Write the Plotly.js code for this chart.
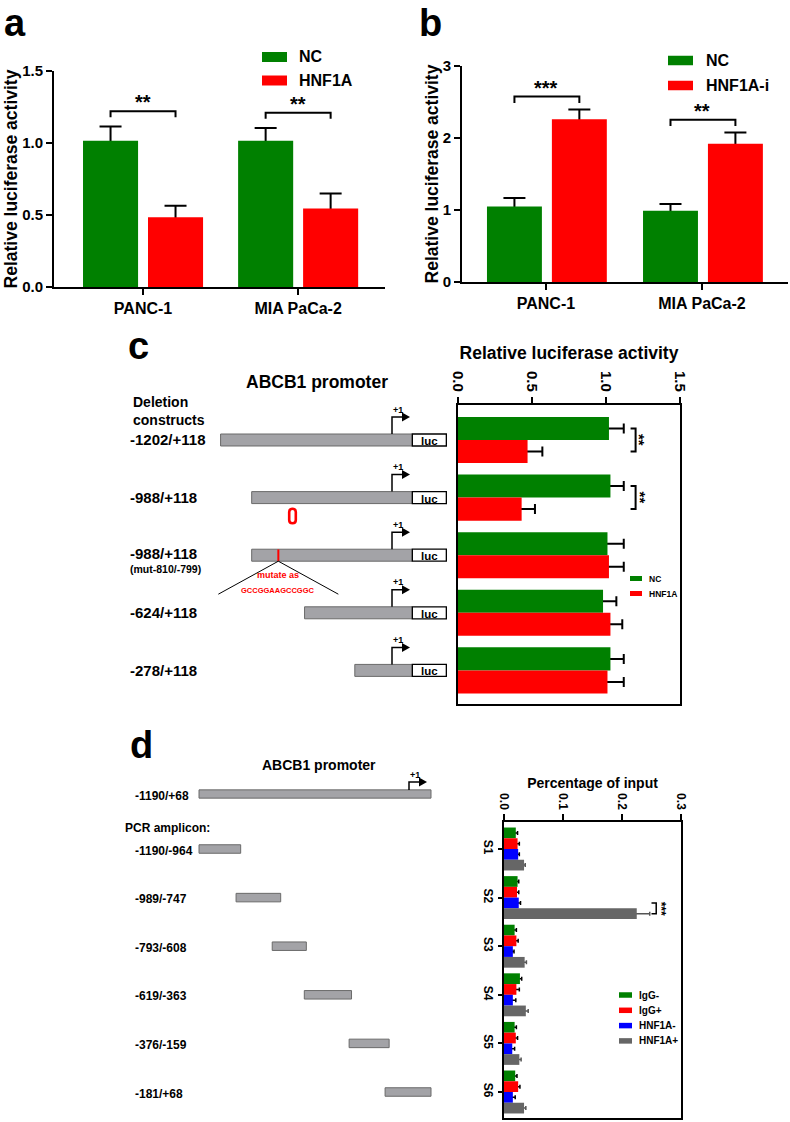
<!DOCTYPE html>
<html><head><meta charset="utf-8">
<script src="https://cdn.plot.ly/plotly-3.0.1.min.js"></script>
<style>html,body{margin:0;padding:0;background:#fff}#chart{width:790px;height:1122px}</style>
</head><body><div id="chart"></div>
<script>
// ================= DATA =================
const cellLines = ['PANC-1', 'MIA PaCa-2'];
// panel a
const aNames = ['NC', 'HNF1A'];
const aNC = [1.015, 1.015];
const aNCerr = [0.10, 0.09];
const aHNF = [0.485, 0.545];
const aHNFerr = [0.08, 0.105];
const aStars = ['**', '**'];
// panel b
const bNames = ['NC', 'HNF1A-i'];
const bNC = [1.05, 0.99];
const bNCerr = [0.115, 0.095];
const bHNF = [2.26, 1.92];
const bHNFerr = [0.135, 0.155];
const bStars = ['***', '**'];
// panel c
const cStart = [-1202, -988, -988, -624, -278];
const cEnd = [118, 118, 118, 118, 118];
const cMutRow = 2;
const cMutSite = [-810, -799];
const cMutSeq = 'GCCGGAAGCCGGC';
const cNames = ['NC', 'HNF1A'];
const cNC = [1.02, 1.03, 1.01, 0.98, 1.03];
const cNCerr = [0.10, 0.09, 0.11, 0.09, 0.09];
const cHNF = [0.47, 0.43, 1.02, 1.03, 1.01];
const cHNFerr = [0.10, 0.09, 0.10, 0.08, 0.11];
const cStars = ['**', '**', '', '', ''];
// panel d
const dPromoter = [-1190, 68];
const dSites = ['S1', 'S2', 'S3', 'S4', 'S5', 'S6'];
const dAmpStart = [-1190, -989, -793, -619, -376, -181];
const dAmpEnd = [-964, -747, -608, -363, -159, 68];
const dNames = ['IgG-', 'IgG+', 'HNF1A-', 'HNF1A+'];
const dIgGneg = [0.020, 0.023, 0.018, 0.027, 0.018, 0.019];
const dIgGnegErr = [0.003, 0.002, 0.003, 0.003, 0.003, 0.003];
const dIgGpos = [0.023, 0.022, 0.021, 0.021, 0.020, 0.024];
const dIgGposErr = [0.003, 0.003, 0.003, 0.005, 0.003, 0.003];
const dHNFneg = [0.024, 0.025, 0.015, 0.015, 0.014, 0.015];
const dHNFnegErr = [0.002, 0.003, 0.002, 0.005, 0.004, 0.004];
const dHNFpos = [0.034, 0.225, 0.035, 0.037, 0.026, 0.034];
const dHNFposErr = [0.002, 0.022, 0.003, 0.004, 0.003, 0.003];
const dStars = ['', '***', '', '', '', ''];

// ================= LAYOUT GEOMETRY (pixels) =================
const W = 790, H = 1122;
const PX = x => x / W;
const PY = y => 1 - y / H;
const FONT = 'Liberation Sans, Arial, Helvetica, sans-serif';
const fnt = (size, color, weight) => ({family: FONT, size: size, color: color || '#000', weight: weight || 'bold'});
const GREEN = '#008000', RED = '#ff0000', BLUE = '#0000ff', GRAY = '#666666';
const BOXGRAY = '#a3a3a7', BOXLINE = '#6a6a6a';

const A = {l: 54, r: 385, t: 71, b: 287};
const B = {l: 462, r: 788, t: 66, b: 282};
const C = {l: 458, r: 680, t: 405, b: 704};
const D = {l: 504, r: 681, t: 822, b: 1118};
const domX = (l, r) => [PX(l), PX(r)];
const domY = (t, b) => [PY(b), PY(t)];

const cRow0 = 440, cStep = 57.6;
const cRowY = i => cRow0 + cStep * i;
const cYRange = [(C.b - cRow0) / cStep, (C.t - cRow0) / cStep];
const dRow0 = 849, dStep = 48.6;
const dRowY = i => dRow0 + dStep * i;
const dYRange = [(D.b - dRow0) / dStep, (D.t - dRow0) / dStep];
const dDiagTop = 770;
const dDiagRange = [(D.b - dRow0) / dStep, (dDiagTop - dRow0) / dStep];
const dPromoRow = (794 - dRow0) / dStep;

// diagram scales: base pairs -> pixels
const cSlope = 0.14526, cMidBp = -539.7, cMidPx = 316.8;
const cX = bp => cMidPx + cSlope * (bp - cMidBp);
const cBp = px => (px - cMidPx) / cSlope + cMidBp;
const dSlope = 232 / 1258, dLeftPx = 199;
const dX = bp => dLeftPx + dSlope * (bp - dPromoter[0]);
const dBp = px => (px - dLeftPx) / dSlope + dPromoter[0];
const cTssPx = 392, dTssPx = 409;
const fmt = v => (v > 0 ? '+' + v : String(v));

// ================= TRACES =================
const carriers = [], bars = [];
function series(o) {
  const common = {type: 'bar', xaxis: o.xa, yaxis: o.ya, offset: o.off, width: o.wid,
    hoverinfo: 'skip', showlegend: false};
  const err = {type: 'data', array: o.err, symmetric: true, color: o.errColor || '#000',
    thickness: o.errThick || 2, width: o.capW};
  if (o.h) {
    carriers.push(Object.assign({}, common, {orientation: 'h', x: o.vals, y: o.pos,
      marker: {color: 'rgba(0,0,0,0)'}, error_x: err}));
    bars.push(Object.assign({}, common, {orientation: 'h', x: o.vals, y: o.pos,
      marker: {color: o.color, line: {width: 0}}}));
  } else {
    carriers.push(Object.assign({}, common, {x: o.pos, y: o.vals,
      marker: {color: 'rgba(0,0,0,0)'}, error_y: err}));
    bars.push(Object.assign({}, common, {x: o.pos, y: o.vals,
      marker: {color: o.color, line: {width: 0}}}));
  }
}
const ab = cellLines.map((_, i) => i);
const cPos = cNC.map((_, i) => i);
const dPos = dSites.map((_, i) => i);

series({xa: 'x', ya: 'y', pos: ab, vals: aNC, err: aNCerr, off: -0.387, wid: 0.355, color: GREEN, capW: 11});
series({xa: 'x', ya: 'y', pos: ab, vals: aHNF, err: aHNFerr, off: 0.032, wid: 0.355, color: RED, capW: 11});
series({xa: 'x2', ya: 'y2', pos: ab, vals: bNC, err: bNCerr, off: -0.378, wid: 0.352, color: GREEN, capW: 11});
series({xa: 'x2', ya: 'y2', pos: ab, vals: bHNF, err: bHNFerr, off: 0.038, wid: 0.352, color: RED, capW: 11});
series({h: true, xa: 'x3', ya: 'y3', pos: cPos, vals: cNC, err: cNCerr, off: -0.4, wid: 0.4, color: GREEN, capW: 5});
series({h: true, xa: 'x3', ya: 'y3', pos: cPos, vals: cHNF, err: cHNFerr, off: 0, wid: 0.4, color: RED, capW: 5});
const dVals = [dIgGneg, dIgGpos, dHNFneg, dHNFpos];
const dErrs = [dIgGnegErr, dIgGposErr, dHNFnegErr, dHNFposErr];
const dColors = [GREEN, RED, BLUE, GRAY];
const dWid = 0.221;
dVals.forEach((v, k) => series({h: true, xa: 'x4', ya: 'y4', pos: dPos, vals: v, err: dErrs[k],
  off: -2 * dWid + k * dWid, wid: dWid, color: dColors[k], capW: 2, errThick: 1.5,
  errColor: k === 3 ? '#555' : '#000'}));

// promoter diagrams
const diag = [];
diag.push({type: 'bar', orientation: 'h', xaxis: 'x5', yaxis: 'y5', y: cPos,
  base: cStart, x: cEnd.map((e, i) => e - cStart[i]), width: 0.208,
  marker: {color: BOXGRAY, line: {color: BOXLINE, width: 1}}, hoverinfo: 'skip', showlegend: false});
diag.push({type: 'bar', orientation: 'h', xaxis: 'x6', yaxis: 'y6', y: [dPromoRow],
  base: [dPromoter[0]], x: [dPromoter[1] - dPromoter[0]], width: 0.17,
  marker: {color: BOXGRAY, line: {color: BOXLINE, width: 1}}, hoverinfo: 'skip', showlegend: false});
diag.push({type: 'bar', orientation: 'h', xaxis: 'x6', yaxis: 'y6', y: dPos,
  base: dAmpStart, x: dAmpEnd.map((e, i) => e - dAmpStart[i]), width: 0.175,
  marker: {color: BOXGRAY, line: {color: BOXLINE, width: 1}}, hoverinfo: 'skip', showlegend: false});

const data = diag.concat(carriers, bars);

// ================= SHAPES & ANNOTATIONS =================
const shapes = [], annotations = [];
const P = (x, y) => PX(x) + ',' + PY(y);
function txt(x, y, text, size, opts) {
  annotations.push(Object.assign({xref: 'paper', yref: 'paper', x: PX(x), y: PY(y), text: text,
    showarrow: false, font: fnt(size), xanchor: 'center', yanchor: 'middle'}, opts || {}));
}

// panel letters
txt(2, 0, 'a', 38, {xanchor: 'left', yanchor: 'top'});
txt(417, 0, 'b', 38, {xanchor: 'left', yanchor: 'top'});
txt(126, 323, 'c', 38, {xanchor: 'left', yanchor: 'top'});
txt(128, 722, 'd', 38, {xanchor: 'left', yanchor: 'top'});

// legends
function legend(names, colors, x0, x1, ys, h, textX, size) {
  names.forEach((n, i) => {
    shapes.push({type: 'rect', xref: 'paper', yref: 'paper', x0: PX(x0), x1: PX(x1),
      y0: PY(ys[i] + h / 2), y1: PY(ys[i] - h / 2), fillcolor: colors[i], line: {width: 0}});
    txt(textX, ys[i], n, size, {xanchor: 'left'});
  });
}
legend(aNames, [GREEN, RED], 262, 287, [57, 80.5], 10, 297, 16);
legend(bNames, [GREEN, RED], 668, 693, [60.5, 85.5], 9.5, 704, 16);
legend(cNames, [GREEN, RED], 630, 642, [578.5, 593.5], 5, 647, 8.5);
legend(dNames, dColors, 619, 632, [995, 1010.3, 1025.6, 1040.9], 5.5, 637, 10);

// significance brackets (vertical bars)
function vBracket(xa, ya, i, x0, x1, nc, hnf, pad, leg, stars, size) {
  const top = Math.max(nc.v[i] + nc.e[i], hnf.v[i] + hnf.e[i]) + pad;
  shapes.push({type: 'path', xref: xa, yref: ya, line: {color: '#000', width: 2},
    path: `M${i + x0},${top - leg} V${top} H${i + x1} V${top - leg}`});
  annotations.push({xref: xa, yref: ya, x: i, y: top, yanchor: 'bottom', yshift: -4,
    text: stars, showarrow: false, font: fnt(size)});
}
ab.forEach(i => vBracket('x', 'y', i, -0.2095, 0.2095, {v: aNC, e: aNCerr}, {v: aHNF, e: aHNFerr}, 0.105, 0.042, aStars[i], 20));
ab.forEach(i => vBracket('x2', 'y2', i, -0.202, 0.214, {v: bNC, e: bNCerr}, {v: bHNF, e: bHNFerr}, 0.18, 0.09, bStars[i], 20));
// horizontal brackets
cStars.forEach((s, i) => {
  if (!s) return;
  const xr = Math.max(cNC[i] + cNCerr[i], cHNF[i] + cHNFerr[i]) + 0.08;
  shapes.push({type: 'path', xref: 'x3', yref: 'y3', line: {color: '#000', width: 2},
    path: `M${xr - 0.034},${i - 0.2} H${xr} V${i + 0.2} H${xr - 0.034}`});
  annotations.push({xref: 'x3', yref: 'y3', x: xr + 0.03, y: i, textangle: 90, xanchor: 'center', yanchor: 'middle',
    text: s, showarrow: false, font: fnt(15)});
});
dStars.forEach((s, i) => {
  if (!s) return;
  const xr = Math.max(dHNFneg[i] + dHNFnegErr[i], dHNFpos[i] + dHNFposErr[i]) + 0.011;
  const y0 = i + dWid / 2, y1 = i + 1.5 * dWid;
  shapes.push({type: 'path', xref: 'x4', yref: 'y4', line: {color: '#000', width: 1.5},
    path: `M${xr - 0.008},${y0} H${xr} V${y1} H${xr - 0.008}`});
  annotations.push({xref: 'x4', yref: 'y4', x: xr + 0.0075, y: (y0 + y1) / 2, textangle: 90,
    xanchor: 'center', yanchor: 'middle', text: s, showarrow: false, font: fnt(12)});
});

// ---- panel c diagram decorations ----
txt(317, 382, 'ABCB1 promoter', 17.5);
txt(131, 410.5, 'Deletion<br>constructs', 14, {xanchor: 'left', align: 'left'});
function tss(x, barTop, rise, plusSize) {
  const yt = barTop - rise;
  shapes.push({type: 'path', xref: 'paper', yref: 'paper', line: {color: '#000', width: 1.5},
    path: `M${P(x, barTop)} L${P(x, yt)} L${P(x + 11, yt)}`});
  shapes.push({type: 'path', xref: 'paper', yref: 'paper', line: {width: 0}, fillcolor: '#000',
    path: `M${P(x + 10, yt - 4.5)} L${P(x + 18, yt)} L${P(x + 10, yt + 4.5)} Z`});
  txt(x + 6, yt - 7.5, '+1', plusSize);
}
const LUC_PX = 34;
cStart.forEach((s, i) => {
  const y = cRowY(i);
  const lab = fmt(s) + '/' + fmt(cEnd[i]);
  txt(128, i === cMutRow ? y - 2 : y, lab, 15, {xanchor: 'left'});
  shapes.push({type: 'rect', xref: 'x5', yref: 'y5', x0: cEnd[i], x1: cBp(cX(cEnd[i]) + LUC_PX),
    y0: i - 0.104, y1: i + 0.104, fillcolor: '#fff', line: {color: '#000', width: 1.3}});
  annotations.push({xref: 'x5', yref: 'y5', x: cBp(cX(cEnd[i]) + LUC_PX / 2), y: i, text: 'luc',
    showarrow: false, font: fnt(11.5), yshift: -1});
  tss(cTssPx, y - 6, 17, 9);
});
txt(128, cRowY(cMutRow) + 14, '(mut' + cMutSite[0] + '/' + cMutSite[1] + ')', 10.5, {xanchor: 'left'});
// mutation site
const mutBp = (cMutSite[0] + cMutSite[1]) / 2;
const mutPx = cX(mutBp);
shapes.push({type: 'line', xref: 'x5', yref: 'y5', x0: mutBp, x1: mutBp, y0: cMutRow - 0.1, y1: cMutRow + 0.1,
  line: {color: RED, width: 2}});
const mb = cRowY(cMutRow) + 6;
shapes.push({type: 'path', xref: 'paper', yref: 'paper', line: {color: '#000', width: 1},
  path: `M${P(mutPx - 60, mb + 33)} L${P(mutPx, mb)} L${P(mutPx + 60, mb + 33)}`});
txt(mutPx, mb + 14, 'mutate as', 9, {font: fnt(9, RED)});
txt(mutPx, mb + 29, cMutSeq, 7.5, {font: fnt(7.5, RED)});
// binding site marker
const ox = 292.5, oy = 516;
shapes.push({type: 'path', xref: 'paper', yref: 'paper', line: {color: RED, width: 2.6},
  path: `M${P(ox - 3.3, oy - 4)} Q${P(ox - 3.3, oy - 7.2)} ${P(ox, oy - 7.2)} Q${P(ox + 3.3, oy - 7.2)} ${P(ox + 3.3, oy - 4)} ` +
        `L${P(ox + 3.3, oy + 4)} Q${P(ox + 3.3, oy + 7.2)} ${P(ox, oy + 7.2)} Q${P(ox - 3.3, oy + 7.2)} ${P(ox - 3.3, oy + 4)} Z`});

// ---- panel d diagram decorations ----
txt(319, 765, 'ABCB1 promoter', 14);
txt(133, 796, fmt(dPromoter[0]) + '/' + fmt(dPromoter[1]), 12, {xanchor: 'left'});
tss(dTssPx, 790, 8, 9);
txt(123, 828, 'PCR amplicon:', 12, {xanchor: 'left'});
dAmpStart.forEach((s, i) => txt(133, dRowY(i) + 1.5, fmt(s) + '/' + fmt(dAmpEnd[i]), 12, {xanchor: 'left'}));

// ================= AXES =================
const axBase = {showgrid: false, zeroline: false, showline: true, linecolor: '#000', linewidth: 2,
  ticks: 'outside', ticklen: 6, tickwidth: 2, tickcolor: '#000', fixedrange: true};
const hidden = {visible: false, showgrid: false, zeroline: false, fixedrange: true};

const layout = {
  width: W, height: H, margin: {l: 0, r: 0, t: 0, b: 0},
  paper_bgcolor: '#fff', plot_bgcolor: 'rgba(0,0,0,0)',
  font: fnt(12), showlegend: false, barmode: 'overlay', hovermode: false,
  xaxis: Object.assign({}, axBase, {domain: domX(A.l, A.r), range: [-0.574, 1.56], anchor: 'y',
    tickvals: ab, ticktext: cellLines, tickfont: fnt(16)}),
  yaxis: Object.assign({}, axBase, {domain: domY(A.t, A.b), range: [0, 1.5], anchor: 'x',
    tickvals: [0, 0.5, 1, 1.5], tickformat: '.1f', tickfont: fnt(15),
    title: {text: 'Relative luciferase activity', font: fnt(17.5), standoff: 0}}),
  xaxis2: Object.assign({}, axBase, {domain: domX(B.l, B.r), range: [-0.538, 1.551], anchor: 'y2',
    tickvals: ab, ticktext: cellLines, tickfont: fnt(16)}),
  yaxis2: Object.assign({}, axBase, {domain: domY(B.t, B.b), range: [0, 3], anchor: 'x2',
    tickvals: [0, 1, 2, 3], tickfont: fnt(15),
    title: {text: 'Relative luciferase activity', font: fnt(17.5), standoff: 0}}),
  xaxis3: Object.assign({}, axBase, {domain: domX(C.l, C.r), range: [0, 1.5], anchor: 'y3', side: 'top',
    mirror: true, tickvals: [0, 0.5, 1, 1.5], tickformat: '.1f', tickangle: 90, tickfont: fnt(15),
    title: {text: 'Relative luciferase activity', font: fnt(17.5), standoff: 7}}),
  yaxis3: Object.assign({}, axBase, {domain: domY(C.t, C.b), range: cYRange, anchor: 'x3',
    mirror: true, ticks: '', showticklabels: false}),
  xaxis4: Object.assign({}, axBase, {domain: domX(D.l, D.r), range: [0, 0.3], anchor: 'y4', side: 'top',
    mirror: true, tickvals: [0, 0.1, 0.2, 0.3], tickformat: '.1f', tickangle: 90, tickfont: fnt(12),
    title: {text: 'Percentage of input', font: fnt(14), standoff: 1}}),
  yaxis4: Object.assign({}, axBase, {domain: domY(D.t, D.b), range: dYRange, anchor: 'x4',
    mirror: true, tickvals: dPos, ticktext: dSites, tickangle: 90, tickfont: fnt(12), ticklen: 4}),
  xaxis5: Object.assign({}, hidden, {domain: domX(200, 452), range: [cBp(200), cBp(452)], anchor: 'y5'}),
  yaxis5: Object.assign({}, hidden, {domain: domY(C.t, C.b), range: cYRange, anchor: 'x5'}),
  xaxis6: Object.assign({}, hidden, {domain: domX(190, 440), range: [dBp(190), dBp(440)], anchor: 'y6'}),
  yaxis6: Object.assign({}, hidden, {domain: domY(dDiagTop, D.b), range: dDiagRange, anchor: 'x6'}),
  shapes: shapes, annotations: annotations
};

Plotly.newPlot('chart', data, layout, {staticPlot: true, displayModeBar: false});
</script>
</body></html>
